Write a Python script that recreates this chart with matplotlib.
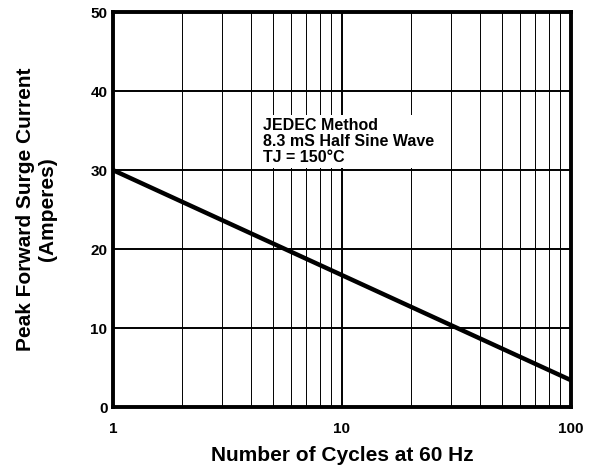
import matplotlib
matplotlib.use("Agg")
import matplotlib.pyplot as plt
import numpy as np
from matplotlib.ticker import LogLocator, FixedLocator, NullFormatter

plt.rcParams['font.family'] = ['Liberation Sans', 'DejaVu Sans']
plt.rcParams['font.weight'] = 'bold'

# surge current vs number of cycles
cycles = [1, 100]
current = [30, 3.4]

x_ticks = [1, 10, 100]
x_tick_labels = ["1", "10", "100"]
y_ticks = [0, 10, 20, 30, 40, 50]

fig = plt.figure(figsize=(5.99, 4.68), dpi=100)
ax = fig.add_axes([0.1886, 0.1303, 0.7644, 0.8437])

ax.set_xscale("log")
ax.set_xlim(1, 100)
ax.set_ylim(0, 50)

ax.xaxis.set_major_locator(FixedLocator(x_ticks))
ax.set_xticklabels(x_tick_labels)
ax.xaxis.set_minor_locator(LogLocator(base=10, subs=np.arange(2, 10)))
ax.xaxis.set_minor_formatter(NullFormatter())
ax.set_yticks(y_ticks)

ax.grid(True, which="major", axis="x", color="black", linewidth=1.4)
ax.grid(True, which="minor", axis="x", color="black", linewidth=0.7)
ax.grid(True, which="major", axis="y", color="black", linewidth=1.4)
ax.tick_params(which="both", length=0, labelsize=11)
ax.tick_params(axis="x", pad=11)
ax.tick_params(axis="y", pad=4)

for s in ax.spines.values():
    s.set_linewidth(2.8)

ax.plot(cycles, current, color="black", linewidth=3.2, solid_capstyle="butt")

ax.text(4.5, 36.6, "JEDEC Method\n8.3 mS Half Sine Wave\nTJ = 150\u00b0C",
        fontsize=11.5, fontweight="bold", va="top", ha="left", linespacing=1.1,
        bbox=dict(facecolor="white", edgecolor="none", pad=2))

ax.set_xlabel("Number of Cycles at 60 Hz", fontsize=15, fontweight="bold", labelpad=7)
ax.set_ylabel("Peak Forward Surge Current\n(Amperes)", fontsize=15, fontweight="bold", labelpad=24)

fig.savefig("out.png", dpi=100)
